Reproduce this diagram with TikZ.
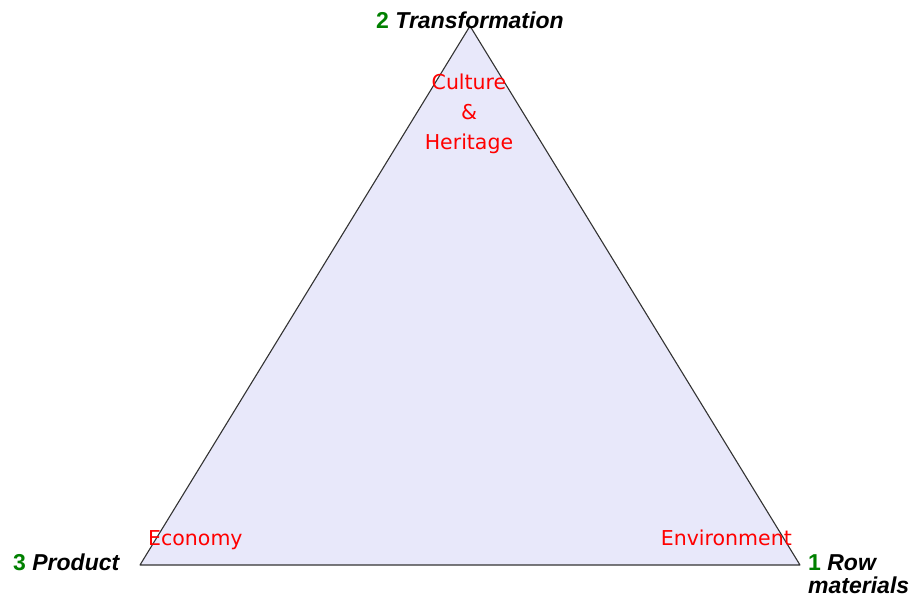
\documentclass[tikz,border=0pt]{standalone}
\usepackage{fontspec}
\setmainfont{Liberation Sans}
\newfontfamily\handfont{DejaVu Sans}
\definecolor{trifill}{RGB}{232,232,250}
\definecolor{numgreen}{RGB}{0,128,0}
\definecolor{aspectred}{RGB}{255,0,0}
\newcommand{\stagenum}[1]{\textcolor{numgreen}{\upshape #1}}
\begin{document}
\begin{tikzpicture}[x=1pt,y=-1pt,
  vertexlabel/.style={font=\fontsize{23}{23}\selectfont\bfseries\itshape, inner sep=0pt, align=left},
  aspect/.style={font=\handfont\fontsize{20.5}{30}\selectfont, text=aspectred, inner sep=0pt, align=center}]
  \useasboundingbox (0,0) rectangle (911,597);
  % corners of the triangle
  \coordinate (top) at (470,26);
  \coordinate (left) at (140,565);
  \coordinate (right) at (800,565);
  \filldraw[fill=trifill, draw=black!80, line width=1.1pt, line join=round] (top) -- (right) -- (left) -- cycle;
  % stage labels at the corners
  \node[vertexlabel, anchor=west] (trans) at (376,20) {\stagenum{2} Transformation};
  \node[vertexlabel, anchor=west] (prod) at (13,562) {\stagenum{3} Product};
  \node[vertexlabel, anchor=north west] (row) at (808,554) {\stagenum{1} Row\\materials};
  % aspects inside the triangle
  \node[aspect] (culture) at (469,114) {Culture\\\&\\Heritage};
  \node[aspect, anchor=base west] (econ) at (148,545) {Economy};
  \node[aspect, anchor=base east] (env) at (792,545) {Environment};
\end{tikzpicture}
\end{document}
